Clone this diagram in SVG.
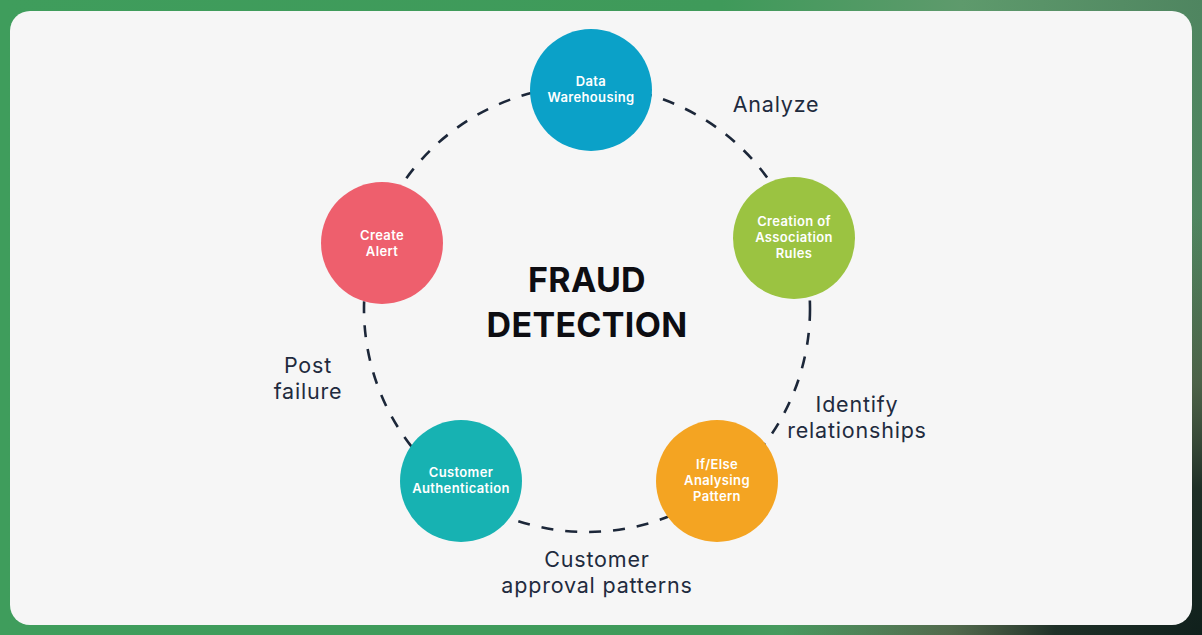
<svg xmlns="http://www.w3.org/2000/svg" width="1202" height="635" viewBox="0 0 1202 635">
  <defs>
    <linearGradient id="bg" x1="0" y1="0" x2="1" y2="0">
      <stop offset="0" stop-color="#3f9d5c"/>
      <stop offset="0.6" stop-color="#3f9a5a"/>
      <stop offset="0.8" stop-color="#5e9a6c"/>
      <stop offset="1" stop-color="#4f8560"/>
    </linearGradient>
    <radialGradient id="dark" cx="1202" cy="635" r="420" gradientUnits="userSpaceOnUse">
      <stop offset="0" stop-color="#10201c" stop-opacity="1"/>
      <stop offset="0.35" stop-color="#1c2b24" stop-opacity="0.95"/>
      <stop offset="0.6" stop-color="#4a4a38" stop-opacity="0.6"/>
      <stop offset="1" stop-color="#4a4a38" stop-opacity="0"/>
    </radialGradient>
    <style>
      .node-label { font-family: Inter, "Liberation Sans", sans-serif; font-weight: 600; font-size: 13px; letter-spacing: 0.35px; fill: #ffffff; text-anchor: middle; }
      .edge-label { font-family: Inter, "Liberation Sans", sans-serif; font-weight: 400; font-size: 21.5px; letter-spacing: 0.8px; fill: #1f2b3e; text-anchor: middle; }
      .title { font-family: Inter, "Liberation Sans", sans-serif; font-weight: 700; font-size: 34px; letter-spacing: 0.3px; fill: #0d0d12; text-anchor: middle; }
      .ring { fill: none; stroke: #1c2739; stroke-width: 2.6; stroke-dasharray: 12 12; }
    </style>
  </defs>

  <rect x="0" y="0" width="1202" height="635" fill="url(#bg)"/>
  <rect x="0" y="0" width="1202" height="635" fill="url(#dark)"/>
  <rect x="10" y="11" width="1182" height="614" rx="20" ry="20" fill="#f6f6f6"/>

  <g id="connectors">
    <circle class="ring" cx="587" cy="309" r="223"/>
  </g>

  <g id="edge-labels">
    <text class="edge-label" x="776" y="112">Analyze</text>
    <text class="edge-label" x="857" y="412">Identify</text>
    <text class="edge-label" x="857" y="438">relationships</text>
    <text class="edge-label" x="597" y="567">Customer</text>
    <text class="edge-label" x="597" y="593">approval patterns</text>
    <text class="edge-label" x="308" y="373">Post</text>
    <text class="edge-label" x="308" y="399">failure</text>
  </g>

  <g id="title">
    <text class="title" x="587" y="292">FRAUD</text>
    <text class="title" x="587" y="337">DETECTION</text>
  </g>

  <g id="node-data-warehousing">
    <circle cx="591" cy="90" r="61" fill="#0ba1c8"/>
    <text class="node-label" x="591" y="86">Data</text>
    <text class="node-label" x="591" y="102">Warehousing</text>
  </g>

  <g id="node-association-rules">
    <circle cx="794" cy="238" r="61" fill="#9bc341"/>
    <text class="node-label" x="794" y="226">Creation of</text>
    <text class="node-label" x="794" y="242">Association</text>
    <text class="node-label" x="794" y="258">Rules</text>
  </g>

  <g id="node-ifelse">
    <circle cx="717" cy="481" r="61" fill="#f4a422"/>
    <text class="node-label" x="717" y="469">If/Else</text>
    <text class="node-label" x="717" y="485">Analysing</text>
    <text class="node-label" x="717" y="501">Pattern</text>
  </g>

  <g id="node-customer-auth">
    <circle cx="461" cy="481" r="61" fill="#17b2b2"/>
    <text class="node-label" x="461" y="477">Customer</text>
    <text class="node-label" x="461" y="493">Authentication</text>
  </g>

  <g id="node-create-alert">
    <circle cx="382" cy="243" r="61" fill="#ee5f6d"/>
    <text class="node-label" x="382" y="240">Create</text>
    <text class="node-label" x="382" y="256">Alert</text>
  </g>
</svg>
